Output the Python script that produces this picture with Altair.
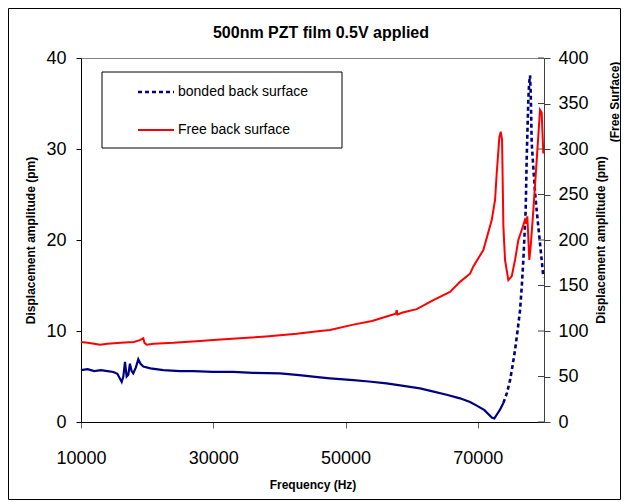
import altair as alt
import pandas as pd

# ---- data ----
title_text = "500nm PZT film 0.5V applied"
series_names = ["bonded back surface", "Free back surface"]

bonded_freq = [10000, 11000, 12000, 13000, 14000, 14900, 15500, 16150, 16400, 16650,
               16900, 17150, 17400, 17650, 17900, 18300, 18660, 19000, 19420, 20500,
               22440, 25000, 27000, 30000, 33000, 36000, 40100, 43000, 46140, 47650,
               51170, 53500, 56200, 58500, 61260, 63000, 65290, 67300, 68820, 69830,
               71000, 72100, 72500, 72850, 73300, 73860,
               74400, 74870, 75250, 75620, 76000, 76380, 76650, 76880, 77050, 77230,
               77380, 77500, 77630, 77750, 77890, 77990, 78140, 78400, 78650, 78900,
               79150, 79400, 79650, 79900]
bonded_amp = [5.7, 5.8, 5.6, 5.7, 5.6, 5.5, 5.3, 4.4, 5.0, 6.6,
              5.0, 5.2, 6.4, 5.6, 5.35, 6.0, 6.9, 6.4, 6.1, 5.9,
              5.7, 5.6, 5.6, 5.5, 5.5, 5.4, 5.35, 5.15, 4.9, 4.8,
              4.6, 4.45, 4.25, 4.0, 3.7, 3.4, 3.0, 2.6, 2.2, 1.8,
              1.3, 0.5, 0.4, 0.8, 1.3, 2.1,
              3.2, 4.6, 6.2, 7.9, 10.0, 12.3, 15.0, 17.8, 20.5, 23.3,
              28.8, 32.0, 35.4, 37.2, 38.1, 36.2, 30.7, 27.8, 25.2, 23.2,
              21.4, 19.6, 17.8, 15.9]

free_freq = [10000, 11000, 12000, 12870, 14000, 16000, 18000, 18900, 19420, 19600,
             19930, 21000, 24000, 28000, 30000, 34000, 38000, 42600, 46140, 47650,
             51170, 54000, 56200, 57600, 57730, 57850, 58500, 60760, 63270, 65790,
             67300, 68820, 69320, 70830, 72100, 72600, 72850, 73250, 73460, 73660,
             73860, 74110, 74610, 75120, 75620, 76120, 76630, 77130, 77300, 77480,
             77780, 77990, 78390, 78900, 79400, 79650, 79900]
free_amp = [88, 87, 86, 85, 86, 87, 88, 90, 92, 87,
            85, 86, 87, 89, 90, 92, 94, 97, 100, 101,
            107, 111, 116, 119, 123, 118, 120, 124, 134, 143,
            154, 163, 171, 189, 222, 244, 273, 313, 319, 310,
            215, 178, 156, 160, 178, 200, 211, 222, 218, 226,
            178, 193, 233, 288, 343, 340, 295]

x_ticks = [10000, 30000, 50000, 70000]
left_ticks = [0, 10, 20, 30, 40]
right_ticks = [0, 50, 100, 150, 200, 250, 300, 350, 400]
left_title = "Displacement amplitude (pm)"
right_title = ["Displacement amplitude (pm)", "(Free Surface)"]
x_title = "Frequency (Hz)"

# ---- tables ----
SPLIT = 73860
bonded = pd.DataFrame({"f": bonded_freq, "v": bonded_amp})
bonded_flat = bonded[bonded["f"] <= SPLIT]
bonded_steep = bonded[bonded["f"] >= SPLIT]
free = pd.DataFrame({"f": free_freq, "v": free_amp})
rticks = pd.DataFrame({"t": right_ticks})

FONT = "Liberation Sans"
W, H = 463, 364
PAD = {"left": 73, "top": 50, "right": 77, "bottom": 78}

xscale = alt.Scale(domain=[10000, 80000], nice=False, zero=False)
xaxis = alt.Axis(values=x_ticks, format="d", title=x_title, labelFontSize=18,
                 labelPadding=21, labelFlush=False, labelOverlap=False,
                 tickSize=6, tickColor="#666666", domainColor="#000000",
                 titleFontSize=12, titleFontWeight="bold", titlePadding=12, grid=False,
                 labelFont=FONT, titleFont=FONT, labelColor="#000000", titleColor="#000000")
X = alt.X("f:Q", scale=xscale, axis=xaxis)

lscale = alt.Scale(domain=[0, 40], nice=False, zero=True)
laxis = alt.Axis(values=left_ticks, title=left_title, labelFontSize=18, labelPadding=10,
                 labelFlush=False, labelOverlap=False,
                 tickSize=5, tickColor="#000000", domainColor="#000000", grid=False,
                 titleFontSize=12, titleFontWeight="bold", titlePadding=8,
                 labelFont=FONT, titleFont=FONT, labelColor="#000000", titleColor="#000000")

rscale = alt.Scale(domain=[0, 400], nice=False, zero=True)
raxis = alt.Axis(values=right_ticks, title=None, orient="right", labelFontSize=18,
                 labelPadding=8, labelFlush=False, labelOverlap=False,
                 tickSize=6, tickColor="#404040", domainColor="#404040",
                 grid=False, labelFont=FONT, labelColor="#000000")

blue_flat = alt.Chart(bonded_flat).mark_line(color="#000080", strokeWidth=2.2).encode(
    x=X, y=alt.Y("v:Q", scale=lscale, axis=laxis))
blue_steep = alt.Chart(bonded_steep).mark_line(
    color="#000080", strokeWidth=2.6, strokeDash=[4, 3]).encode(
    x=X, y=alt.Y("v:Q", scale=lscale, axis=laxis))

red = alt.Chart(free).mark_line(color="#FF0000", strokeWidth=2).encode(
    x=X, y=alt.Y("v:Q", scale=rscale, axis=raxis))
inner_ticks = alt.Chart(rticks).mark_rule(color="#404040", strokeWidth=1).encode(
    x=alt.value(W - 6), x2=alt.value(W),
    y=alt.Y("t:Q", scale=rscale, axis=raxis))

one = alt.Data(values=[{"k": 1}])

# legend box (Excel style)
leg_box = alt.Chart(one).mark_rect(fill="white", stroke="#000000", strokeWidth=1).encode(
    x=alt.value(21), x2=alt.value(261), y=alt.value(14), y2=alt.value(90))
leg_blue = alt.Chart(one).mark_rule(color="#000080", strokeWidth=2.6, strokeDash=[4, 3]).encode(
    x=alt.value(57), x2=alt.value(93), y=alt.value(34))
leg_red = alt.Chart(one).mark_rule(color="#FF0000", strokeWidth=2).encode(
    x=alt.value(57), x2=alt.value(93), y=alt.value(72))
leg_t1 = alt.Chart(one).mark_text(align="left", baseline="middle", fontSize=14, font=FONT,
                                  color="#000000", text=series_names[0]).encode(
    x=alt.value(97), y=alt.value(34))
leg_t2 = alt.Chart(one).mark_text(align="left", baseline="middle", fontSize=14, font=FONT,
                                  color="#000000", text=series_names[1]).encode(
    x=alt.value(97), y=alt.value(72))

title_mark = alt.Chart(one).mark_text(align="center", baseline="middle", fontSize=16,
                                      fontWeight="bold", font=FONT, color="#000000",
                                      text=title_text).encode(
    x=alt.value(240), y=alt.value(-25))

rt1 = alt.Chart(one).mark_text(align="center", baseline="middle", fontSize=12, angle=270,
                               fontWeight="bold", font=FONT, color="#000000",
                               text=right_title[0]).encode(
    x=alt.value(W + 57), y=alt.value(182))
rt2 = alt.Chart(one).mark_text(align="center", baseline="middle", fontSize=12, angle=270,
                               fontWeight="bold", font=FONT, color="#000000",
                               text=right_title[1]).encode(
    x=alt.value(W + 71), y=alt.value(44))

border = alt.Chart(one).mark_rect(fill=None, stroke="#000000", strokeWidth=1).encode(
    x=alt.value(-PAD["left"] + 0.5), x2=alt.value(W + PAD["right"] - 0.5),
    y=alt.value(-PAD["top"] + 0.5), y2=alt.value(H + PAD["bottom"] - 0.5))

left = alt.layer(border, blue_flat, blue_steep, leg_box, leg_blue, leg_red, leg_t1, leg_t2,
                 title_mark, rt1, rt2)
right = alt.layer(red, inner_ticks)

chart = alt.layer(left, right).resolve_scale(y="independent").properties(
    width=W, height=H, autosize=alt.AutoSizeParams(type="none"), padding=PAD,
    background="white"
).configure_view(stroke="#808080", strokeWidth=1)

chart.save("out.html", embed_options={"renderer": "svg", "actions": False})
